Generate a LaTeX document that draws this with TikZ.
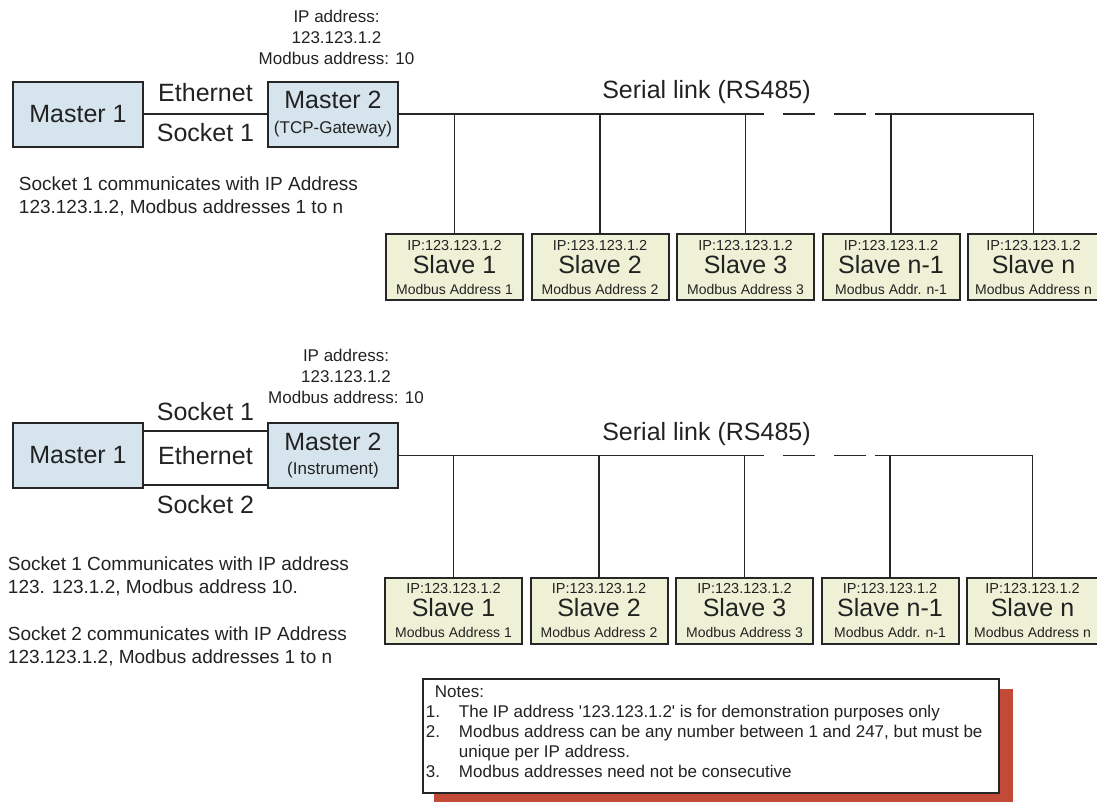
\documentclass[tikz,border=0pt]{standalone}
\usepackage{fontspec}
\setmainfont{Liberation Sans}
\usetikzlibrary{positioning}
\definecolor{masterblue}{RGB}{214,229,237}
\definecolor{slaveyellow}{RGB}{239,241,214}
\definecolor{linegray}{RGB}{38,38,38}
\definecolor{textgray}{RGB}{34,34,34}
\definecolor{shadowred}{RGB}{196,74,56}
\newcommand{\bigtxt}{\fontsize{25}{24}\selectfont}
\newcommand{\desctxt}{\fontsize{19}{23}\selectfont}
\newcommand{\subtxt}{\fontsize{17}{21}\selectfont}
\newcommand{\notetxt}{\fontsize{17}{20}\selectfont}
\newcommand{\iptxt}{\fontsize{14.5}{17}\selectfont}
\newcommand{\addrtxt}{\fontsize{14}{17}\selectfont}

\begin{document}
\begin{tikzpicture}[x=1pt,y=-1pt,line width=1.9pt,color=linegray,text=textgray,
					master node/.style={rectangle,draw=linegray,line width=2pt,fill=masterblue,minimum width=130pt,minimum height=65pt,inner sep=0pt,align=center,font=\bigtxt},
					slave node/.style={rectangle,draw=linegray,line width=2pt,fill=slaveyellow,minimum width=137pt,minimum height=66pt,inner sep=0pt,align=center,font=\fontsize{25}{23}\selectfont},
					last slave/.style={slave node,minimum width=131pt},
					link label/.style={inner sep=0pt,font=\bigtxt},
					ip text/.style={inner sep=0pt,align=center,font=\subtxt},
					desc text/.style={inner sep=0pt,align=left,font=\desctxt,anchor=north west}]
					
					\useasboundingbox (0,0) rectangle (1097,801);
					
					% TCP gateway
					\node[master node] (m1) at (78,114.3) {Master 1};
					\node[master node] (m2) [right=123pt of m1] {Master 2\\[1pt]{\subtxt (TCP-Gateway)}};
					\node[ip text] (ip1) [above=15pt of m2,xshift=3.5pt] {IP address:\\123.123.1.2\\Modbus address: 10};
					\node[desc text] (d1) at (18,176) {Socket 1 communicates with IP Address\\123.123.1.2, Modbus addresses 1 to n};
					
					\node[slave node] (s1) at (454.5,267) {{\iptxt IP:123.123.1.2}\\Slave 1\\[-2pt]{\addrtxt Modbus Address 1}};
					\node[slave node] (s2) [right=6.5pt of s1] {{\iptxt IP:123.123.1.2}\\Slave 2\\[-2pt]{\addrtxt Modbus Address 2}};
					\node[slave node] (s3) [right=6.5pt of s2] {{\iptxt IP:123.123.1.2}\\Slave 3\\[-2pt]{\addrtxt Modbus Address 3}};
					\node[slave node] (s4) [right=6.5pt of s3] {{\iptxt IP:123.123.1.2}\\Slave n-1\\[-2pt]{\addrtxt Modbus Addr. n-1}};
					\node[last slave] (s5) [right=6.5pt of s4] {{\iptxt IP:123.123.1.2}\\Slave n\\[-2pt]{\addrtxt Modbus Address n}};
					
					\path (m1) edge node[link label,above=12pt] {Ethernet} node[link label,below=8.5pt] {Socket 1} (m2);
					
					\node[link label,anchor=base] (rs1) at (706.5,98.5) {Serial link (RS485)};
					\coordinate (g1) at (764,0 |- m2.east);
					\coordinate (g2) at (875,0 |- m2.east);
					\draw (m2) -- (g1);
					\draw[dash pattern=on 32pt off 19pt,dash phase=32pt] (g1) -- (g2);
					\draw (g2) -- (s5.north |- m2.east) -- (s5.north);
					\foreach \s in {s1,s2,s3,s4}
						\draw (\s.north |- m2.east) -- (\s.north);
					
					% instrument
					\node[master node] (m1b) at (78,455.5) {Master 1};
					\node[master node] (m2b) [right=123pt of m1b] {Master 2\\[-0.5pt]{\subtxt (Instrument)}};
					\node[ip text] (ip2) [above=17pt of m2b,xshift=13pt] {IP address:\\123.123.1.2\\Modbus address: 10};
					\node[desc text] (d2) at (7,556) {Socket 1 Communicates with IP address\\123. 123.1.2, Modbus address 10.\\[23.5pt]Socket 2 communicates with IP Address\\123.123.1.2, Modbus addresses 1 to n};
					
					\node[slave node] (t1) at (453.5,610.5) {{\iptxt IP:123.123.1.2}\\Slave 1\\[-2pt]{\addrtxt Modbus Address 1}};
					\node[slave node] (t2) [right=6.5pt of t1] {{\iptxt IP:123.123.1.2}\\Slave 2\\[-2pt]{\addrtxt Modbus Address 2}};
					\node[slave node] (t3) [right=6.5pt of t2] {{\iptxt IP:123.123.1.2}\\Slave 3\\[-2pt]{\addrtxt Modbus Address 3}};
					\node[slave node] (t4) [right=6.5pt of t3] {{\iptxt IP:123.123.1.2}\\Slave n-1\\[-2pt]{\addrtxt Modbus Addr. n-1}};
					\node[last slave] (t5) [right=6.5pt of t4] {{\iptxt IP:123.123.1.2}\\Slave n\\[-2pt]{\addrtxt Modbus Address n}};
					
					\path ([yshift=24.5pt]m1b.east) edge node[link label,above=9pt] {Socket 1} ([yshift=24.5pt]m2b.west)
						([yshift=-29.5pt]m1b.east) edge node[link label,below=9.5pt] {Socket 2} ([yshift=-29.5pt]m2b.west);
					\path (m1b) -- node[link label] (eth2) {Ethernet} (m2b);
					
					\node[link label,anchor=base] (rs2) at (706.5,440) {Serial link (RS485)};
					\coordinate (h1) at (764,0 |- m2b.east);
					\coordinate (h2) at (875,0 |- m2b.east);
					\draw (m2b) -- (h1);
					\draw[dash pattern=on 32pt off 19pt,dash phase=32pt] (h1) -- (h2);
					\draw (h2) -- (t5.north |- m2b.east) -- (t5.north);
					\foreach \s in {t1,t2,t3,t4}
						\draw (\s.north |- m2b.east) -- (\s.north);
					
					% notes
					\fill[shadowred] (434,689) rectangle (1013,805);
					\node[rectangle,draw=linegray,line width=2pt,fill=white,minimum width=576pt,minimum height=114pt] (notes) at (711,736) {};
					\node[inner sep=0pt,align=left,font=\notetxt,anchor=north west] (notetext) at ([shift={(3,7)}]notes.north west)
						{\hspace*{9pt}Notes:\\
						\makebox[33pt][l]{1.}The IP address \textquotesingle123.123.1.2\textquotesingle\ is for demonstration purposes only\\
						\makebox[33pt][l]{2.}Modbus address can be any number between 1 and 247, but must be\\
						\hspace*{33pt}unique per IP address.\\
						\makebox[33pt][l]{3.}Modbus addresses need not be consecutive};
\end{tikzpicture}
\end{document}
